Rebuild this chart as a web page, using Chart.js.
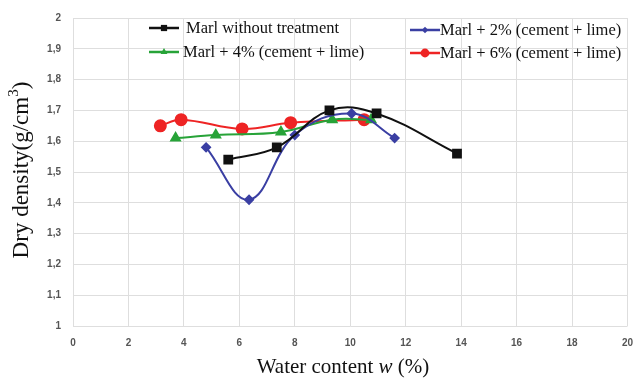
<!DOCTYPE html>
<html lang="en">
<head>
<meta charset="UTF-8">
<title>Dry density vs water content</title>
<script src="https://cdn.jsdelivr.net/npm/chart.js"></script>
<style>
    body { margin: 0; background: #fff; }
    #wrap { width: 635px; height: 379px; }
</style>
</head>
<body>
<div id="wrap"><canvas id="densityChart" width="635" height="379"></canvas></div>
<script>
// values
const seriesNames = ['Marl without treatment', 'Marl + 2% (cement + lime)', 'Marl + 4% (cement + lime)', 'Marl + 6% (cement + lime)'];
const marlX   = [5.6, 7.35, 9.25, 10.95, 13.85];
const marlY   = [1.54, 1.58, 1.70, 1.69, 1.56];
const mix2X   = [4.8, 6.35, 8.0, 10.05, 11.6];
const mix2Y   = [1.58, 1.41, 1.62, 1.69, 1.61];
const mix4X   = [3.7, 5.15, 7.5, 9.35, 10.75];
const mix4Y   = [1.61, 1.62, 1.63, 1.67, 1.67];
const mix6X   = [3.15, 3.9, 6.1, 7.85, 10.5];
const mix6Y   = [1.65, 1.67, 1.64, 1.66, 1.67];
const xTicks  = [0, 2, 4, 6, 8, 10, 12, 14, 16, 18, 20];
const yTicks  = [1, 1.1, 1.2, 1.3, 1.4, 1.5, 1.6, 1.7, 1.8, 1.9, 2];

function pts(xs, ys) {
    return xs.map((x, i) => ({ x: x, y: ys[i] }));
}

function makeSet(label, xs, ys, color, style, radius) {
    return {
        label: label,
        data: pts(xs, ys),
        borderColor: color,
        backgroundColor: color,
        borderWidth: 2,
        pointStyle: style,
        pointRadius: radius,
        pointHoverRadius: radius,
        tension: 0.4,
        showLine: true
    };
}

const serif = '"Liberation Serif", "Times New Roman", serif';

// legend boxes inside the plot, two columns
const legendPos = [
    { x: 149, y: 28, tx: 186 },
    { x: 410, y: 30, tx: 440 },
    { x: 149, y: 52, tx: 183 },
    { x: 410, y: 53, tx: 440 }
];

const extrasPlugin = {
    id: 'extras',
    afterDraw(chart) {
        const ctx = chart.ctx;
        ctx.save();
        // legend
        chart.data.datasets.forEach((ds, i) => {
            const p = legendPos[i];
            ctx.strokeStyle = ds.borderColor;
            ctx.lineWidth = 2.5;
            ctx.beginPath();
            ctx.moveTo(p.x, p.y);
            ctx.lineTo(p.x + 30, p.y);
            ctx.stroke();
            ctx.fillStyle = ds.backgroundColor;
            Chart.helpers.drawPoint(ctx, { pointStyle: ds.pointStyle, radius: ds.pointRadius * 0.8, borderWidth: 0 }, p.x + 15, p.y);
            ctx.fillStyle = '#111';
            ctx.font = '16.5px ' + serif;
            ctx.textAlign = 'left';
            ctx.textBaseline = 'middle';
            ctx.fillText(ds.label, p.tx, p.y + 1);
        });

        // x axis title with italic w
        ctx.fillStyle = '#111';
        ctx.textBaseline = 'middle';
        const parts = [['Water content ', '21px ' + serif], ['w', 'italic 21px ' + serif], [' (%)', '21px ' + serif]];
        let total = 0;
        parts.forEach(pt => { ctx.font = pt[1]; total += ctx.measureText(pt[0]).width; });
        let cx = 343 - total / 2;
        parts.forEach(pt => {
            ctx.font = pt[1];
            ctx.textAlign = 'left';
            ctx.fillText(pt[0], cx, 367);
            cx += ctx.measureText(pt[0]).width;
        });

        // y axis title with superscript 3
        ctx.translate(22, 170);
        ctx.rotate(-Math.PI / 2);
        const main = 'Dry density(g/cm';
        ctx.font = '23px ' + serif;
        const w1 = ctx.measureText(main).width;
        ctx.font = '15px ' + serif;
        const w2 = ctx.measureText('3').width;
        ctx.font = '23px ' + serif;
        const w3 = ctx.measureText(')').width;
        let sx = -(w1 + w2 + w3) / 2;
        ctx.fillText(main, sx, 0);
        sx += w1;
        ctx.font = '15px ' + serif;
        ctx.fillText('3', sx, -8);
        sx += w2;
        ctx.font = '23px ' + serif;
        ctx.fillText(')', sx, 0);
        ctx.restore();
    }
};

const tickFont = { family: '"Liberation Sans", Arial, sans-serif', size: 10, weight: 'bold' };

new Chart(document.getElementById('densityChart'), {
    type: 'scatter',
    data: {
        datasets: [
            makeSet(seriesNames[0], marlX, marlY, '#111111', 'rect', 5.5),
            makeSet(seriesNames[1], mix2X, mix2Y, '#3a3fa3', 'rectRot', 4),
            makeSet(seriesNames[2], mix4X, mix4Y, '#27a338', 'triangle', 5),
            makeSet(seriesNames[3], mix6X, mix6Y, '#ee2424', 'circle', 5.5)
        ]
    },
    options: {
        responsive: false,
        animation: false,
        layout: { padding: { left: 0, right: 0, top: 18, bottom: 0 } },
        plugins: {
            legend: { display: false },
            tooltip: { enabled: false }
        },
        scales: {
            x: {
                type: 'linear',
                min: 0,
                max: 20,
                afterBuildTicks: s => { s.ticks = xTicks.map(v => ({ value: v })); },
                afterFit: s => { s.height = 53; s.paddingRight = 7; s.paddingLeft = 0; },
                grid: { color: '#dedede', drawTicks: false },
                border: { display: false },
                ticks: { font: tickFont, color: '#555', padding: 11, maxRotation: 0 }
            },
            y: {
                min: 1,
                max: 2,
                afterBuildTicks: s => { s.ticks = yTicks.map(v => ({ value: v })); },
                afterFit: s => { s.width = 73; s.paddingTop = 0; s.paddingBottom = 0; },
                grid: { color: '#dedede', drawTicks: false },
                border: { display: false },
                ticks: {
                    font: tickFont,
                    color: '#555',
                    padding: 12,
                    callback: v => String(+v.toFixed(1)).replace('.', ',')
                }
            }
        }
    },
    plugins: [extrasPlugin]
});
</script>
</body>
</html>
